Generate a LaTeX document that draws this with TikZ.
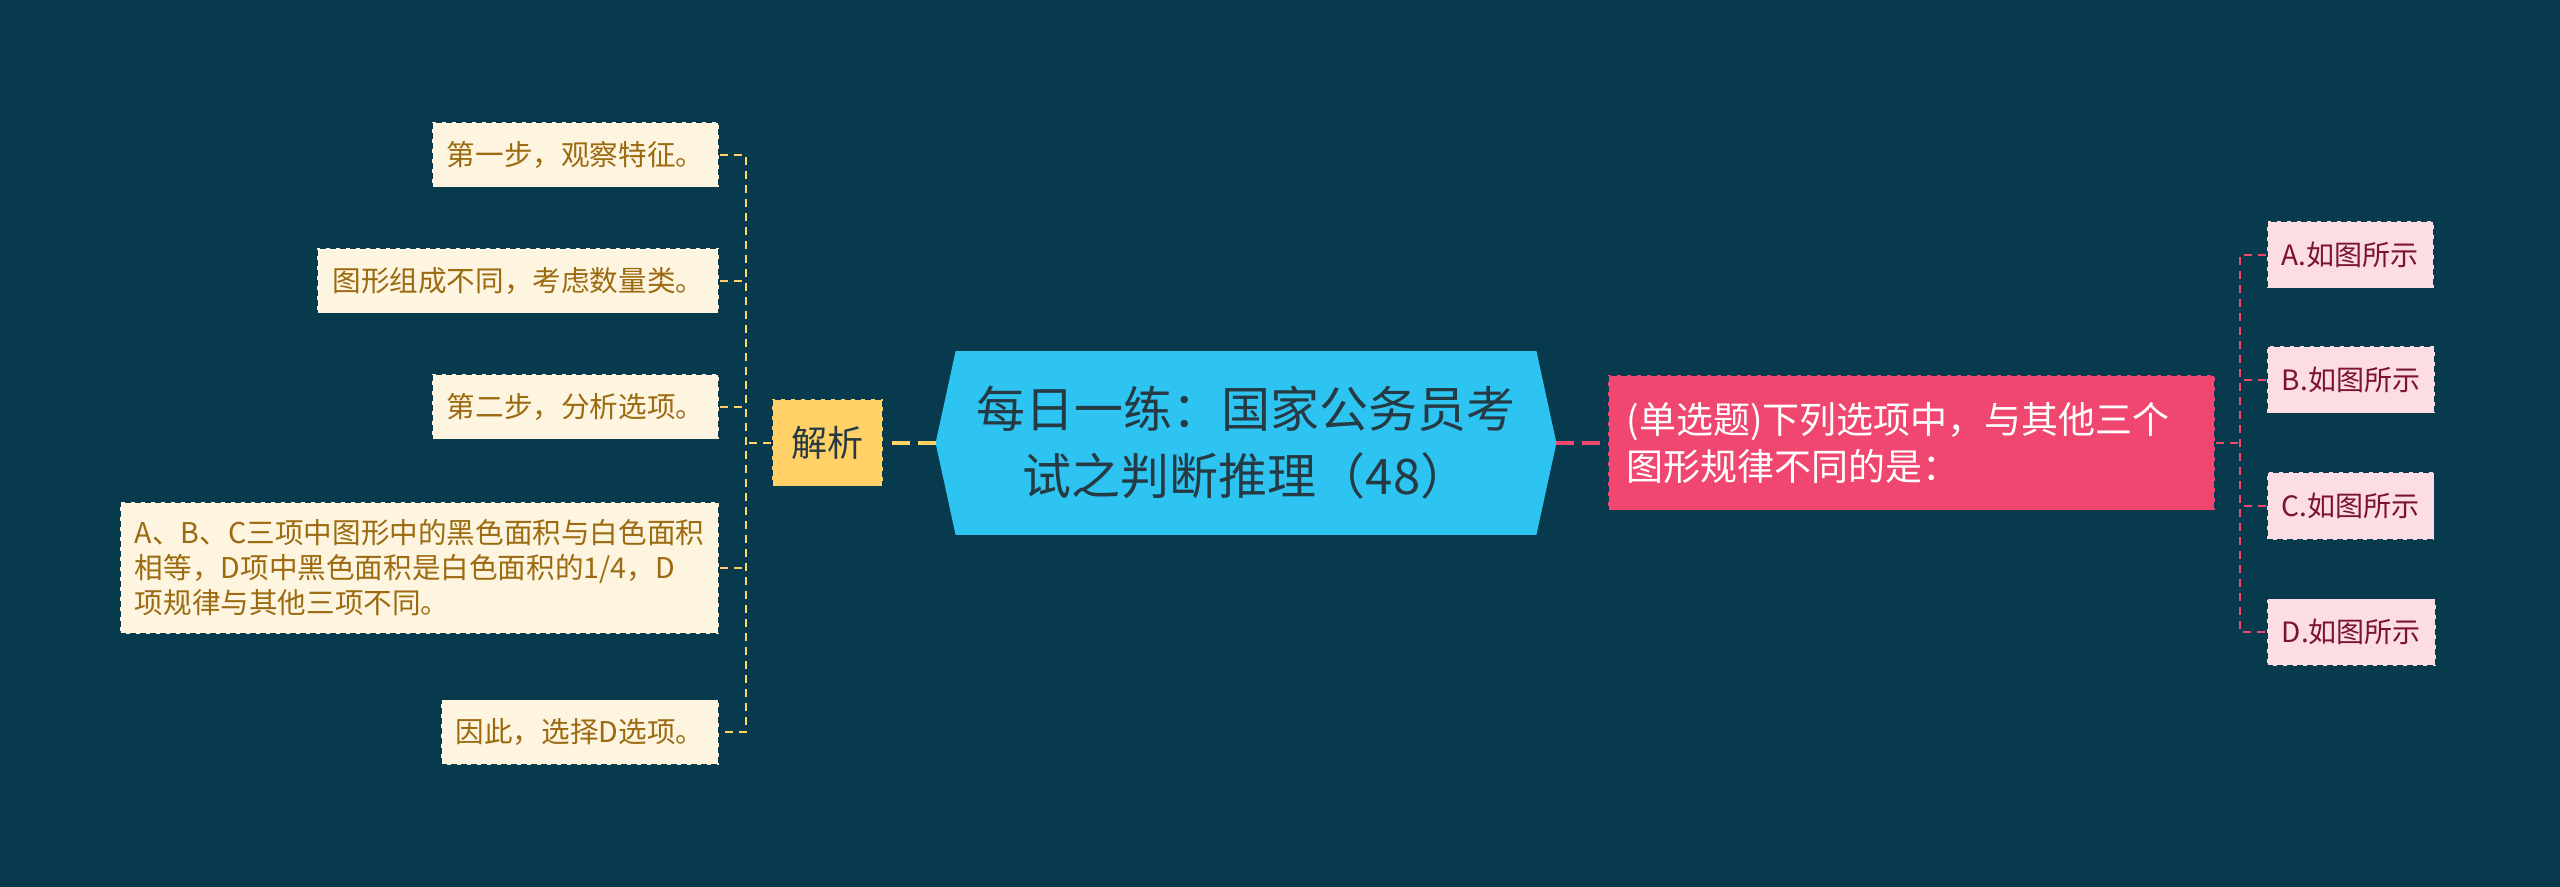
\documentclass[tikz,border=0pt]{standalone}
\usepackage{fontspec}
\newfontfamily\cjk{Noto Sans CJK SC}
\usepackage{tikz}
\usetikzlibrary{calc,backgrounds}

\definecolor{bgcol}{HTML}{083A4E}
\definecolor{leaffill}{HTML}{FDF5E0}
\definecolor{leaftext}{HTML}{9C6A10}
\definecolor{jxfill}{HTML}{FFD166}
\definecolor{titlefill}{HTML}{2EC4F2}
\definecolor{titletext}{HTML}{263A44}
\definecolor{qfill}{HTML}{EF476F}
\definecolor{optfill}{HTML}{FCDDE3}
\definecolor{opttext}{HTML}{7A1230}

\tikzset{
  leaf/.style={draw=bgcol, dash pattern=on 3pt off 2pt, line width=0.8pt, fill=leaffill,
    text=leaftext, font=\cjk\fontsize{14.3pt}{17.5pt}\selectfont, align=left,
    inner xsep=7.5pt, inner ysep=9pt, minimum height=32.5pt, anchor=east},
  opt/.style={draw=bgcol, dash pattern=on 3pt off 2pt, line width=0.8pt, fill=optfill,
    text=opttext, font=\cjk\fontsize{14pt}{17.5pt}\selectfont,
    inner xsep=7.5pt, minimum height=33.5pt, anchor=west},
  lline/.style={draw=jxfill, line width=1pt, dash pattern=on 4pt off 3pt},
  rline/.style={draw=qfill, line width=1pt, dash pattern=on 4pt off 3pt},
}

\begin{document}
\begin{tikzpicture}[x=0.5pt,y=-0.5pt]
    \begin{scope}[on background layer]
        \fill[bgcol] (0,0) rectangle (2560,887);
    \end{scope}
    \useasboundingbox (0,0) rectangle (2560,887);

    % centre
    \node(title)[text=titletext,font=\cjk\fontsize{24.5pt}{33.5pt}\selectfont,align=center,
        minimum width=310pt,minimum height=91.5pt,inner sep=0] at (1246,443)
        {每日一练：国家公务员考\\试之判断推理（48）};
    \begin{scope}[on background layer]
        \fill[titlefill] ($(title.north west)+(20,0)$) -- ($(title.north east)+(-20,0)$)
            -- (title.east) -- ($(title.south east)+(-20,0)$)
            -- ($(title.south west)+(20,0)$) -- (title.west) -- cycle;
    \end{scope}

    % left branch
    \node(jx)[draw=bgcol,dash pattern=on 3pt off 2pt,line width=0.8pt,fill=jxfill,text=titletext,
        font=\cjk\fontsize{18pt}{22pt}\selectfont,inner xsep=9.75pt,minimum height=43.5pt] at (827.5,443) {解析};
    \node(s1)[leaf] at (720,155) {第一步，观察特征。};
    \node(s2)[leaf] at (720,281) {图形组成不同，考虑数量类。};
    \node(s3)[leaf] at (720,407) {第二步，分析选项。};
    \node(s4)[leaf] at (720,568) {A、B、C三项中图形中的黑色面积与白色面积\\相等，D项中黑色面积是白色面积的1/4，D\\项规律与其他三项不同。};
    \node(s5)[leaf] at (720,732) {因此，选择D选项。};
    \coordinate(lb) at (746,443);

    \draw[jxfill,line width=2pt,dash pattern=on 9pt off 4pt] (title.west)--(jx.east);
    \draw[lline] (jx.west)--(lb);
    \draw[lline] (s1.east) -| (lb) |- (s5.east);
    \draw[lline] (s2.east)--(s2.east -| lb);
    \draw[lline] (s3.east)--(s3.east -| lb);
    \draw[lline] (s4.east)--(s4.east -| lb);

    % right branch
    \node(q)[draw=bgcol,dash pattern=on 3pt off 2pt,line width=0.8pt,fill=qfill,text=white,
        font=\cjk\fontsize{18.5pt}{23.5pt}\selectfont,align=left,text width=284.5pt,
        inner xsep=9.5pt,minimum height=67.5pt,anchor=west] at (1607,443)
        {(单选题)下列选项中，与其他三个\\图形规律不同的是：};
    \node(oa)[opt] at (2266,255) {A.如图所示};
    \node(ob)[opt] at (2266,380) {B.如图所示};
    \node(oc)[opt] at (2266,506) {C.如图所示};
    \node(od)[opt] at (2266,632) {D.如图所示};
    \coordinate(rb) at (2240,443);

    \draw[qfill,line width=2pt,dash pattern=on 9pt off 4pt] (title.east)--(q.west);
    \draw[rline] (q.east)--(rb);
    \draw[rline] (oa.west) -| (rb) |- (od.west);
    \draw[rline] (ob.west)--(ob.west -| rb);
    \draw[rline] (oc.west)--(oc.west -| rb);
\end{tikzpicture}
\end{document}
